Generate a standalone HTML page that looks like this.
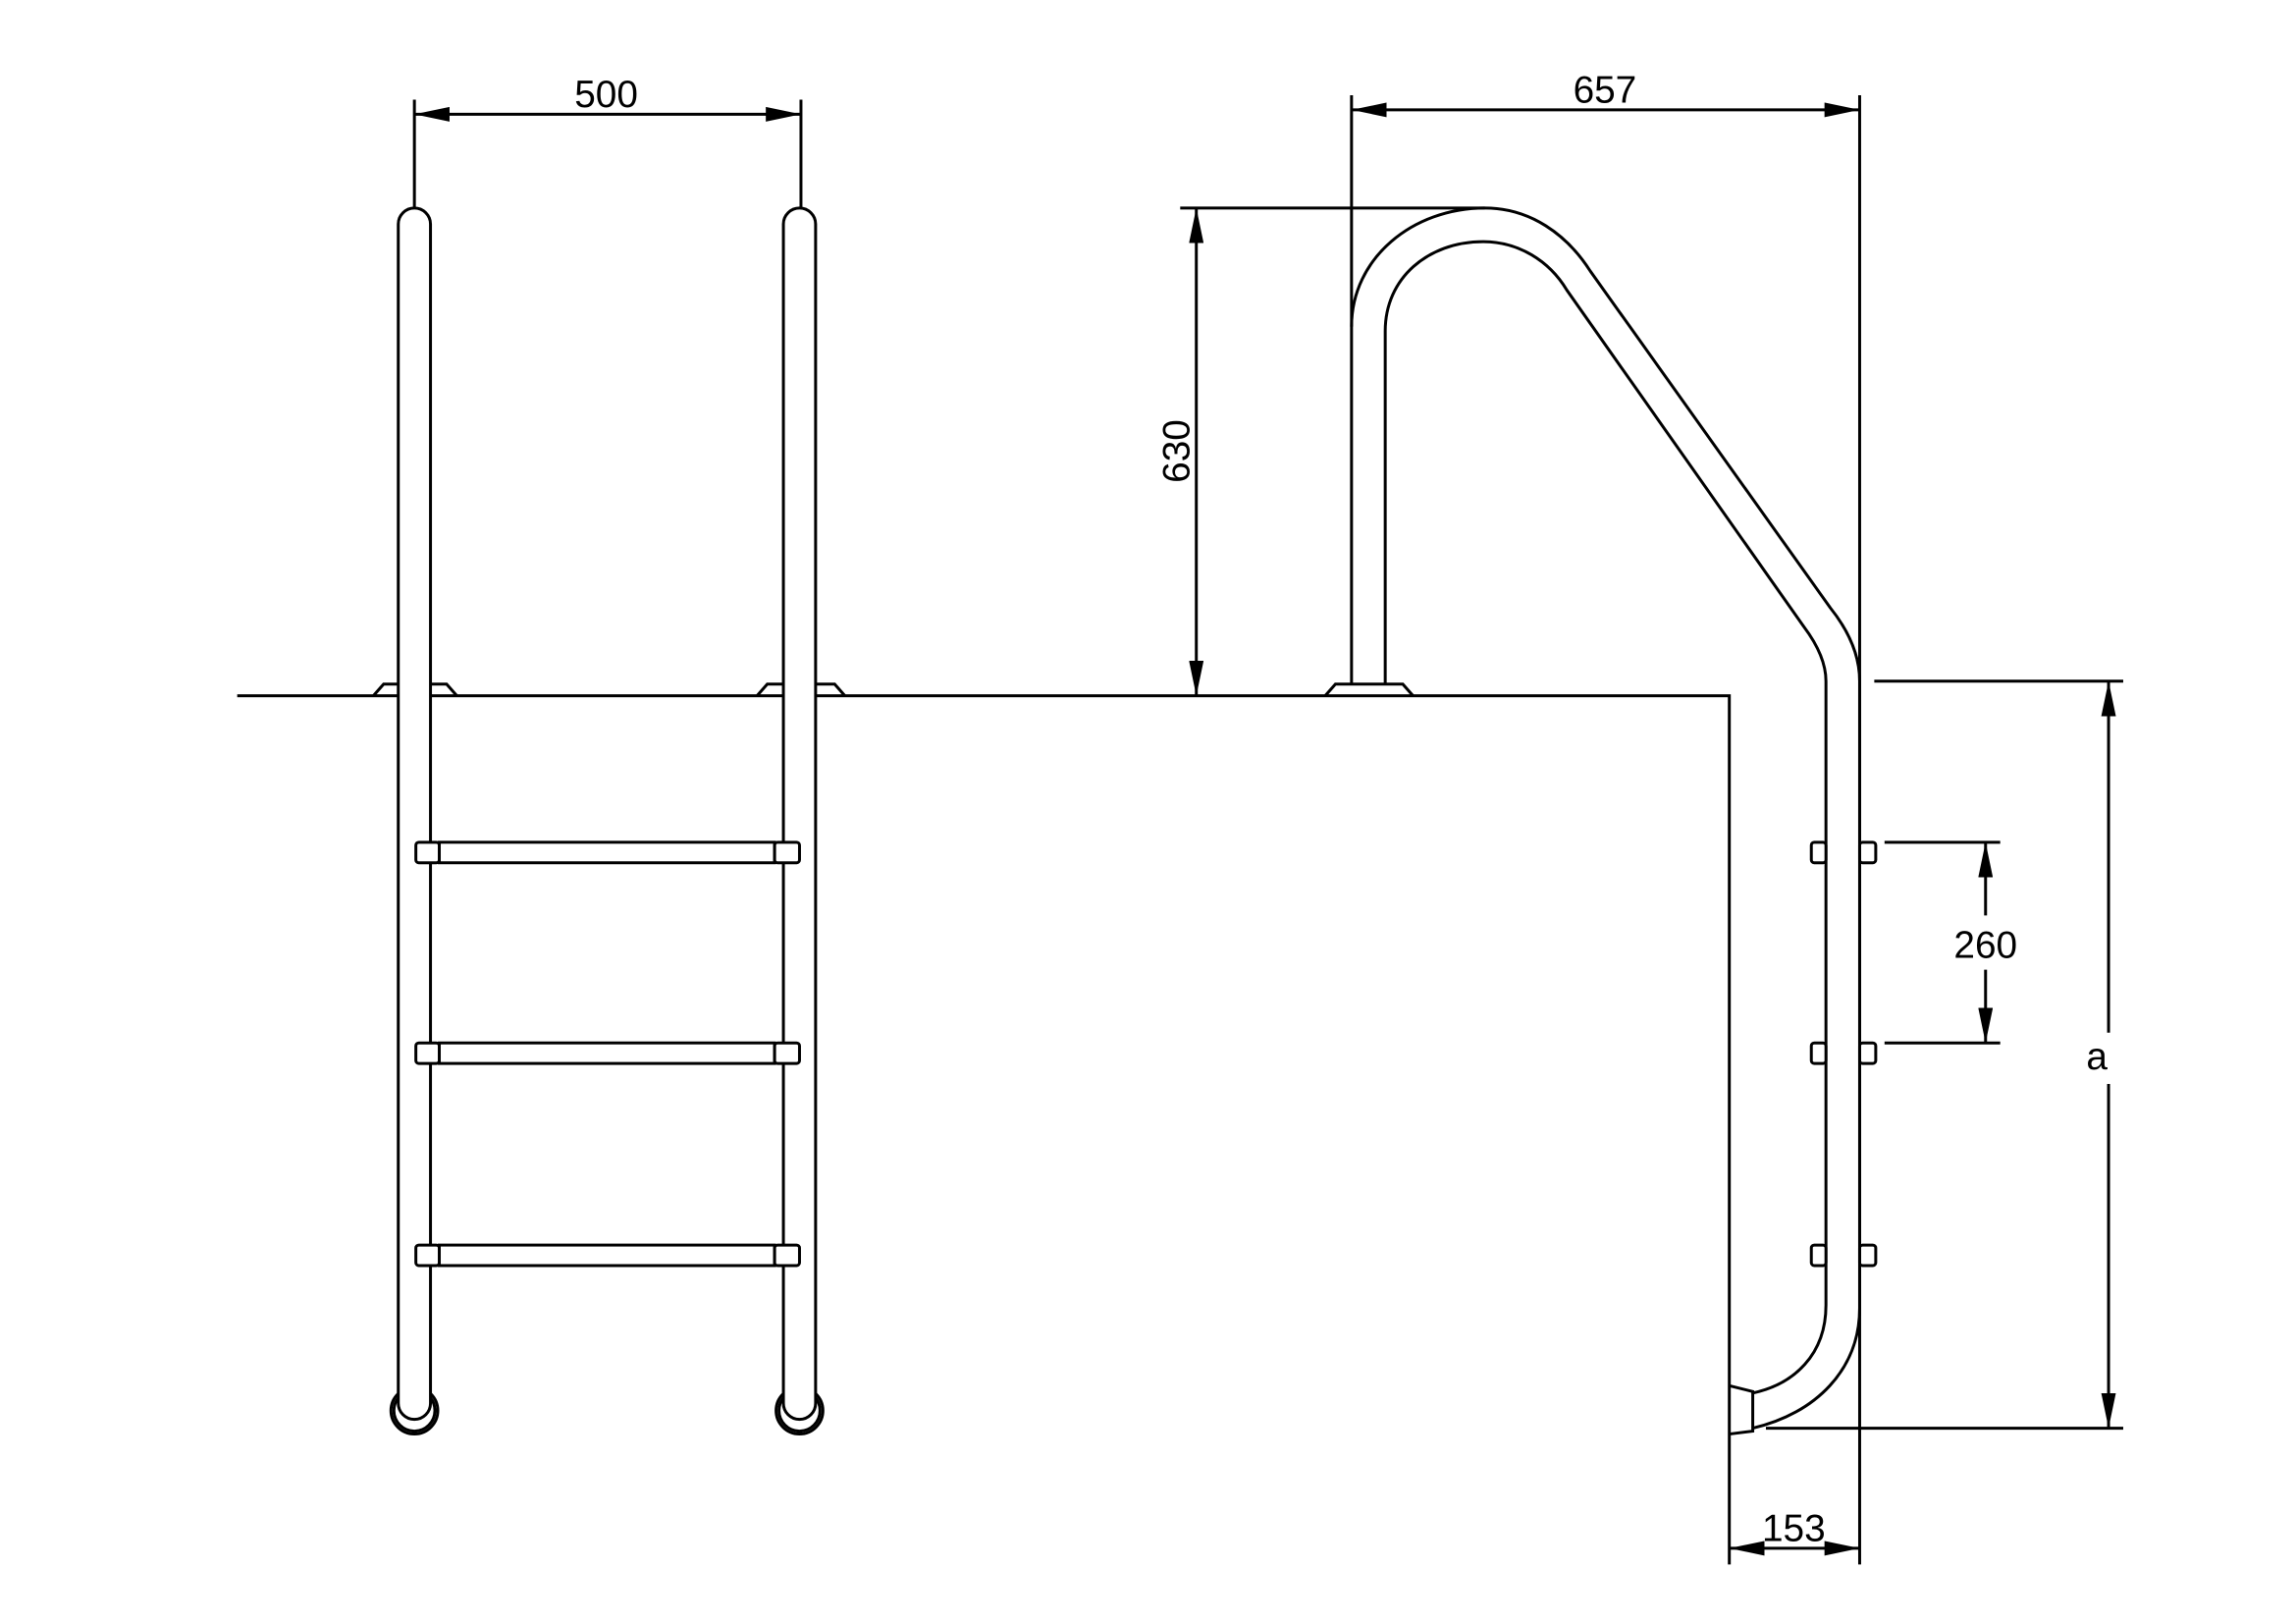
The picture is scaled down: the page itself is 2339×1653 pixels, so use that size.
<!DOCTYPE html>
<html><head><meta charset="utf-8"><style>
html,body{margin:0;padding:0;background:#fff;}
svg{display:block;}
text{font-family:"Liberation Sans",sans-serif;font-size:26px;fill:#000;}
</style></head><body>
<svg width="2339" height="1653" viewBox="0 0 1568 1108" preserveAspectRatio="none" xmlns="http://www.w3.org/2000/svg">
<defs>
<marker id="ar" viewBox="0 0 24 10" refX="24" refY="5" markerWidth="24" markerHeight="10" markerUnits="userSpaceOnUse" orient="auto-start-reverse">
<path d="M0,0 L24,5 L0,10 Z" fill="#000"/>
</marker>
</defs>
<g fill="none" stroke="#000" stroke-width="2">
<path d="M162,475 L1181,475 L1181,1068"/>
<circle cx="283" cy="963" r="16" fill="#fff"/><circle cx="283" cy="963" r="14" />
<circle cx="546" cy="963" r="16" fill="#fff"/><circle cx="546" cy="963" r="14" />
<path d="M272,958 L272,153 A11,11 0 0 1 294,153 L294,958 A11,11 0 0 1 272,958 Z" fill="#fff"/>
<path d="M535,958 L535,153 A11,11 0 0 1 557,153 L557,958 A11,11 0 0 1 535,958 Z" fill="#fff"/>
<path d="M255,475 L262,467 L272,467 M294,467 L305,467 L312,475"/>
<path d="M517,475 L524,467 L535,467 M557,467 L570,467 L577,475"/>
<g fill="#fff">
<rect x="300" y="575" width="229" height="14"/><rect x="284" y="575" width="16" height="14" rx="2"/><rect x="529" y="575" width="17" height="14" rx="2"/>
<rect x="300" y="712" width="229" height="14"/><rect x="284" y="712" width="16" height="14" rx="2"/><rect x="529" y="712" width="17" height="14" rx="2"/>
<rect x="300" y="850" width="229" height="14"/><rect x="284" y="850" width="16" height="14" rx="2"/><rect x="529" y="850" width="17" height="14" rx="2"/>
</g>
<path d="M283,68 L283,142 M547,68 L547,142"/>
<path d="M283,78 L547,78" marker-start="url(#ar)" marker-end="url(#ar)"/>
<path d="M923,467 L923,223 C923,176 965,142 1014,142 C1045,142 1070,160 1086,185 L1250,415 Q1270,440 1270,465 L1270,893 C1270,935 1240,965 1197,975"/>
<path d="M946,467 L946,226 C946,190 975,165 1013,165 C1037,165 1058,178 1070,198 L1232,428 Q1247,448 1247,465 L1247,891 C1247,925 1225,945 1197,951"/>
<path d="M905,475 L912,467 L958,467 L965,475"/>
<path d="M1181,946 L1197,950 L1197,977 L1181,979"/>
<g fill="#fff">
<rect x="1237" y="575" width="10" height="14" rx="2"/><rect x="1270" y="575" width="11" height="14" rx="2"/>
<rect x="1237" y="712" width="10" height="14" rx="2"/><rect x="1270" y="712" width="11" height="14" rx="2"/>
<rect x="1237" y="850" width="10" height="14" rx="2"/><rect x="1270" y="850" width="11" height="14" rx="2"/>
</g>
<path d="M923,65 L923,223 M1270,65 L1270,1068"/>
<path d="M923,75 L1270,75" marker-start="url(#ar)" marker-end="url(#ar)"/>
<path d="M806,142 L1014,142"/>
<path d="M817,142 L817,475" marker-start="url(#ar)" marker-end="url(#ar)"/>
<path d="M1287,575 L1366,575 M1287,712 L1366,712"/>
<path d="M1356,625 L1356,575" marker-end="url(#ar)"/>
<path d="M1356,662 L1356,712" marker-end="url(#ar)"/>
<path d="M1280,465 L1450,465 M1206,975 L1450,975"/>
<path d="M1440,705 L1440,465" marker-end="url(#ar)"/>
<path d="M1440,740 L1440,975" marker-end="url(#ar)"/>
<path d="M1181,1057 L1270,1057" marker-start="url(#ar)" marker-end="url(#ar)"/>
</g>
<text x="414" y="73" text-anchor="middle">500</text>
<text x="1096" y="70" text-anchor="middle">657</text>
<text transform="translate(812,308) rotate(-90)" text-anchor="middle">630</text>
<text x="1356" y="654" text-anchor="middle">260</text>
<text x="1432" y="730" text-anchor="middle">a</text>
<text x="1225" y="1052" text-anchor="middle">153</text>
</svg>
</body></html>
